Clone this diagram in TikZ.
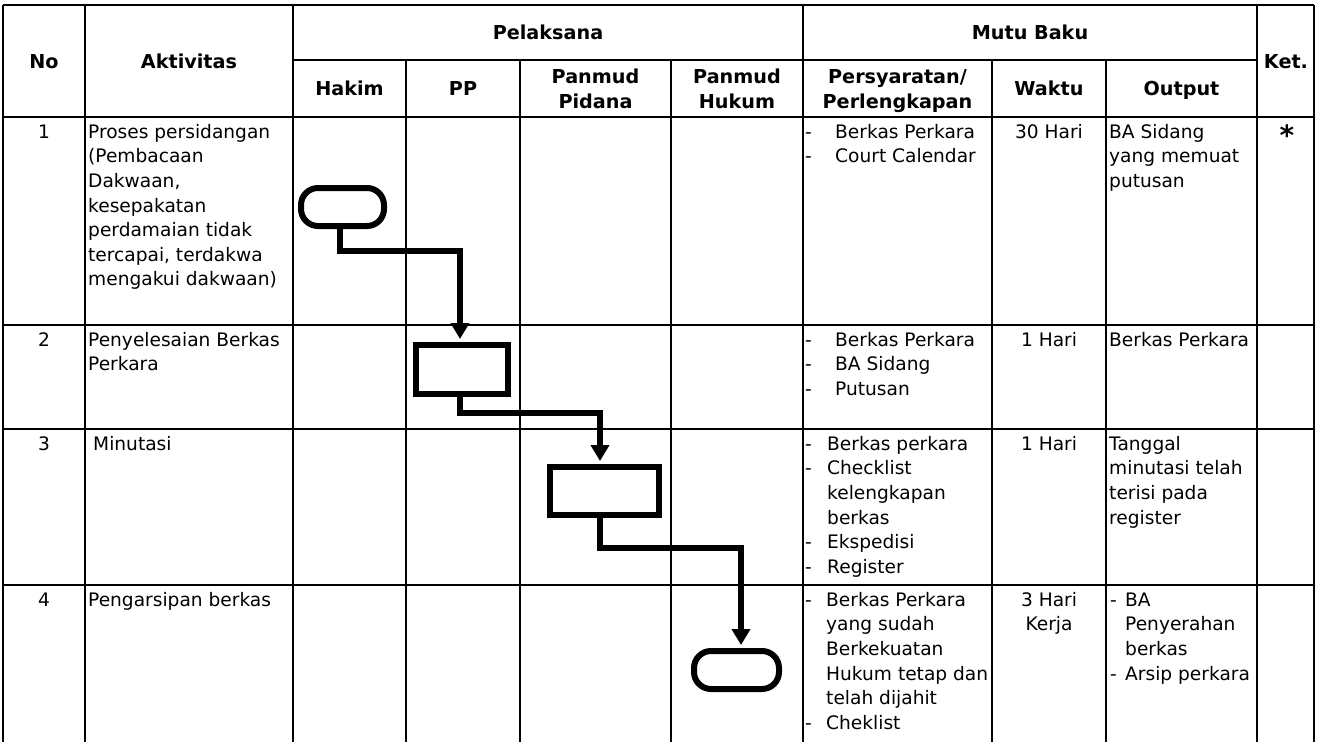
\documentclass[tikz,border=0pt]{standalone}
\usepackage{fontspec}
\setmainfont{DejaVu Sans}
\usetikzlibrary{arrows.meta}
\newcommand\cellfont{\fontsize{18.6}{24.6}\selectfont}
\newcommand\headfont{\fontsize{19.2}{24.6}\selectfont\bfseries}
\tikzset{
  tline/.style={line width=2.3pt},
  flow/.style={line width=6pt},
  flowarrow/.style={flow, -{Triangle[width=18pt,length=16pt]}},
  term/.style={draw, line width=6pt, rounded corners=17pt, inner sep=0pt},
  procbox/.style={draw, line width=6pt, inner sep=0pt},
  cell/.style={anchor=north west, inner sep=0pt, align=left, font=\cellfont},
  ccell/.style={anchor=north, inner sep=0pt, align=center, font=\cellfont},
  hcell/.style={anchor=center, inner sep=0pt, align=center, font=\headfont},
}
\begin{document}
\begin{tikzpicture}[x=1pt, y=-1pt]
\useasboundingbox (0,0) rectangle (1317,742);
% ---------- table grid ----------
\draw[tline] (3,5) -- (1314,5);
\draw[tline] (293,60) -- (1257,60);
\draw[tline] (3,117) -- (1314,117);
\draw[tline] (3,325) -- (1314,325);
\draw[tline] (3,429) -- (1314,429);
\draw[tline] (3,585) -- (1314,585);
\foreach \x in {3,85,293,803,1257,1314} \draw[tline] (\x,5) -- (\x,742);
\foreach \x in {406,520,671,992,1106} \draw[tline] (\x,60) -- (\x,742);
% ---------- header ----------
\node[hcell] (hNo) at (44,64) {\strut No};
\node[hcell] (hAk) at (189,64) {\strut Aktivitas};
\node[hcell] (hPel) at (548,35) {\strut Pelaksana};
\node[hcell] (hMB) at (1030,35) {\strut Mutu Baku};
\node[hcell] (hKet) at (1286,64) {\strut Ket.};
\node[hcell] (hH) at (349.5,91) {\strut Hakim};
\node[hcell] (hPP) at (463,91) {\strut PP};
\node[hcell] (hPi) at (595.5,91) {\strut Panmud\\\strut Pidana};
\node[hcell] (hHu) at (737,91) {\strut Panmud\\\strut Hukum};
\node[hcell] (hPe) at (897.5,91) {\strut Persyaratan/\\\strut Perlengkapan};
\node[hcell] (hW) at (1049,91) {\strut Waktu};
\node[hcell] (hO) at (1181.5,91) {\strut Output};
% ---------- row 1 ----------
\node[ccell] (n1) at (44,120.8) {\strut 1};
\node[cell] (a1) at (88,120.8) {\strut Proses persidangan\\\strut(Pembacaan\\\strut Dakwaan,\\\strut kesepakatan\\\strut perdamaian tidak\\\strut tercapai, terdakwa\\\strut mengakui dakwaan)};
\node[cell] (p1d) at (805,120.8) {\strut-\\\strut-};
\node[cell] (p1) at (835,120.8) {\strut Berkas Perkara\\\strut Court Calendar};
\node[ccell] (w1) at (1049,120.8) {\strut 30 Hari};
\node[cell] (o1) at (1109,120.8) {\strut BA Sidang\\\strut yang memuat\\\strut putusan};
\node[anchor=base, inner sep=0pt, font=\fontsize{28}{30}\selectfont\bfseries] (k1) at (1287,145) {*};
% ---------- row 2 ----------
\node[ccell] (n2) at (44,328.8) {\strut 2};
\node[cell] (a2) at (88,328.8) {\strut Penyelesaian Berkas\\\strut Perkara};
\node[cell] (p2d) at (805,328.8) {\strut-\\\strut-\\\strut-};
\node[cell] (p2) at (835,328.8) {\strut Berkas Perkara\\\strut BA Sidang\\\strut Putusan};
\node[ccell] (w2) at (1049,328.8) {\strut 1 Hari};
\node[cell] (o2) at (1109,328.8) {\strut Berkas Perkara};
% ---------- row 3 ----------
\node[ccell] (n3) at (44,432.8) {\strut 3};
\node[cell] (a3) at (93,432.8) {\strut Minutasi};
\node[cell] (p3d) at (805,432.8) {\strut-\\\strut-\\\strut\\\strut\\\strut-\\\strut-};
\node[cell] (p3) at (827,432.8) {\strut Berkas perkara\\\strut Checklist\\\strut kelengkapan\\\strut berkas\\\strut Ekspedisi\\\strut Register};
\node[ccell] (w3) at (1049,432.8) {\strut 1 Hari};
\node[cell] (o3) at (1109,432.8) {\strut Tanggal\\\strut minutasi telah\\\strut terisi pada\\\strut register};
% ---------- row 4 ----------
\node[ccell] (n4) at (44,588.8) {\strut 4};
\node[cell] (a4) at (88,588.8) {\strut Pengarsipan berkas};
\node[cell] (p4d) at (805,588.8) {\strut-\\\strut\\\strut\\\strut\\\strut\\\strut-};
\node[cell] (p4) at (826,588.8) {\strut Berkas Perkara\\\strut yang sudah\\\strut Berkekuatan\\\strut Hukum tetap dan\\\strut telah dijahit\\\strut Cheklist};
\node[ccell] (w4) at (1049,588.8) {\strut 3 Hari\\\strut Kerja};
\node[cell] (o4d) at (1110,588.8) {\strut-\\\strut\\\strut\\\strut-};
\node[cell] (o4) at (1125,588.8) {\strut BA\\\strut Penyerahan\\\strut berkas\\\strut Arsip perkara};
% ---------- flow shapes ----------
\node[term, minimum width=83pt, minimum height=38pt] (t1) at (342.5,207) {};
\node[procbox, minimum width=92pt, minimum height=49pt] (b2) at (462,369.5) {};
\node[procbox, minimum width=109pt, minimum height=48pt] (b3) at (604.5,491) {};
\node[term, minimum width=85pt, minimum height=38pt] (t2) at (736.5,670) {};
% ---------- connectors ----------
\coordinate (c1a) at (340,251);
\coordinate (c1b) at (460,251);
\coordinate (c2a) at (460,413);
\coordinate (c2b) at (600,413);
\coordinate (c3a) at (600,548);
\coordinate (c3b) at (741,548);
\draw[flowarrow, shorten >=3pt] (t1.south -| c1a) -- (c1a) -- (c1b) -- (c1b |- b2.north);
\draw[flowarrow, shorten >=3pt] (b2.south -| c2a) -- (c2a) -- (c2b) -- (c2b |- b3.north);
\draw[flowarrow, shorten >=3pt] (b3.south -| c3a) -- (c3a) -- (c3b) -- (c3b |- t2.north);
\end{tikzpicture}
\end{document}
